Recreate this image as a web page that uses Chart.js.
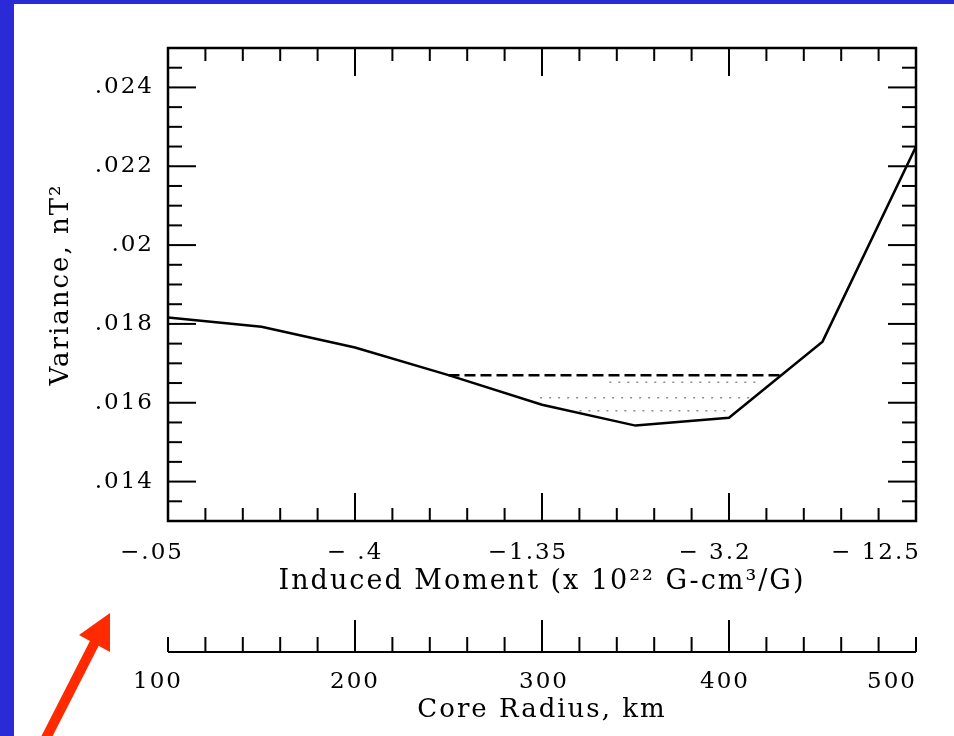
<!DOCTYPE html>
<html>
<head>
<meta charset="utf-8">
<script src="https://cdn.jsdelivr.net/npm/chart.js@4.4.1/dist/chart.umd.min.js"></script>
<style>
  html, body { margin: 0; padding: 0; background: #fff; }
  #wrap { position: relative; width: 954px; height: 736px; overflow: hidden; background: #fff; }
  #wrap canvas { position: absolute; left: 0; top: 0; }
  .blue { position: absolute; left: 0; top: 0; background: #2a2ad6; }
</style>
</head>
<body>
<div id="wrap">
  <canvas id="variance-chart" width="954" height="736"></canvas>
  <div class="blue" style="width:14px;height:736px"></div>
  <div class="blue" style="width:954px;height:4px"></div>
</div>
<script>
// Data (core radius in km -> variance in nT^2)
const radiusKm = [100, 150, 200, 250, 300, 350, 400, 450, 500];
const variance = [0.01816, 0.01793, 0.0174, 0.0167, 0.01595, 0.01542, 0.01562, 0.01755, 0.0225];

// Dashed level closing the minimum, and the faint hatching under it
const levelKm = [250, 429];
const levelVar = [0.0167, 0.0167];
const hatchKm = [[336, 415], [299, 411], [320, 400]];
const hatchVar = [0.01652, 0.01613, 0.0158];

// Tick labels
const tickKm = [100, 200, 300, 400, 500];
const momentLabels = ['\u2212.05', '\u2212 .4', '\u22121.35', '\u2212 3.2', '\u2212 12.5'];
const radiusLabels = ['100', '200', '300', '400', '500'];
const varianceTicks = [0.014, 0.016, 0.018, 0.02, 0.022, 0.024];
const varianceLabels = ['.014', '.016', '.018', '.02', '.022', '.024'];

// the typeset labels don't sit centred on their ticks (px nudges)
const momentNudge = [-16, 0, -14, -14, -40];
const radiusNudge = [-10, 0, 2, -4, -24];

const FONT = "'DejaVu Serif', 'Liberation Serif', serif";
const INK = '#000';

const toPoints = (xs, ys) => xs.map((v, i) => ({ x: v, y: ys[i] }));

const hatchSets = hatchKm.map((xs, i) => ({
  data: toPoints(xs, [hatchVar[i], hatchVar[i]]),
  borderColor: 'rgba(0,0,0,0.45)',
  borderWidth: 1.5,
  borderDash: [2, 7],
  pointRadius: 0,
}));

// no extra side padding for the first/last x labels
const noSidePad = (h) => (s) => {
  s.height = h;
  s.paddingLeft = 0;
  s.paddingRight = 0;
};

// inward ticks on the frame and the separate core-radius axis
const frameTicks = {
  id: 'frameTicks',
  beforeLayout(c) { c.ctx.letterSpacing = '2px'; },
  afterLayout(c) {
    [['x', momentNudge], ['x2', radiusNudge]].forEach(([id, nudge]) => {
      c.scales[id].getLabelItems().forEach((item, i) => {
        item.options.translation[0] += nudge[i] || 0;
      });
    });
  },
  beforeDraw(c) { c.ctx.letterSpacing = '2px'; },
  afterDraw(c) {
    const { ctx, chartArea: a, scales: { x, y } } = c;
    ctx.save();
    ctx.strokeStyle = INK;
    const seg = (x1, y1, x2, y2) => {
      ctx.beginPath(); ctx.moveTo(x1, y1); ctx.lineTo(x2, y2); ctx.stroke();
    };
    ctx.lineWidth = 2;
    for (let i = 1; i < 20; i++) {
      const v = 100 + i * 20;
      const px = x.getPixelForValue(v);
      const len = v % 100 === 0 ? 28 : 13;
      seg(px, a.top, px, a.top + len);
      seg(px, a.bottom, px, a.bottom - len);
    }
    for (let i = 1; i < 24; i++) {
      const v = 0.013 + i * 0.0005;
      const py = y.getPixelForValue(v);
      const len = (i - 2) % 4 === 0 ? 28 : 14;
      seg(a.left, py, a.left + len, py);
      seg(a.right, py, a.right - len, py);
    }
    ctx.lineWidth = 2.5;
    ctx.strokeRect(a.left, a.top, a.right - a.left, a.bottom - a.top);

    // core radius axis
    const base = 652;
    ctx.lineWidth = 2;
    seg(x.getPixelForValue(100), base, x.getPixelForValue(500), base);
    for (let i = 0; i <= 20; i++) {
      const v = 100 + i * 20;
      const px = x.getPixelForValue(v);
      const len = v % 100 === 0 && v !== 100 && v !== 500 ? 32 : 15;
      seg(px, base, px, base - len);
    }

    // red arrow
    ctx.strokeStyle = '#ff2a00';
    ctx.fillStyle = '#ff2a00';
    ctx.lineWidth = 10;
    seg(44, 742, 95, 642);
    ctx.beginPath();
    ctx.moveTo(110, 613); ctx.lineTo(79, 635); ctx.lineTo(110, 652); ctx.closePath();
    ctx.fill();
    ctx.restore();
  },
};

const ctx = document.getElementById('variance-chart');
// eslint-disable-next-line no-unused-vars
const chart = new Chart(ctx, {
  type: 'line',
  data: {
    datasets: [
      {
        data: toPoints(radiusKm, variance),
        borderColor: INK,
        borderWidth: 2.5,
        pointRadius: 0,
        tension: 0,
      },
      {
        data: toPoints(levelKm, levelVar),
        borderColor: INK,
        borderWidth: 2.5,
        borderDash: [11, 5],
        pointRadius: 0,
      },
      ...hatchSets,
    ],
  },
  options: {
    responsive: false,
    animation: false,
    layout: { padding: { top: 48, right: 38, left: 46, bottom: 10 } },
    plugins: { legend: { display: false }, tooltip: { enabled: false } },
    scales: {
      x: {
        type: 'linear',
        position: 'bottom',
        min: 100,
        max: 500,
        afterBuildTicks: (s) => { s.ticks = tickKm.map((v) => ({ value: v })); },
        afterFit: noSidePad(77),
        grid: { display: false, drawTicks: false },
        border: { display: false },
        ticks: {
          padding: 18,
          color: INK,
          font: { family: FONT, size: 23 },
          maxRotation: 0,
          callback: (v) => momentLabels[tickKm.indexOf(v)],
        },
        title: {
          display: true,
          text: 'Induced Moment (x 10\u00b2\u00b2 G-cm\u00b3/G)',
          color: INK,
          font: { family: FONT, size: 27 },
          padding: 0,
        },
      },
      x2: {
        type: 'linear',
        position: 'bottom',
        min: 100,
        max: 500,
        afterBuildTicks: (s) => { s.ticks = tickKm.map((v) => ({ value: v })); },
        afterFit: noSidePad(128),
        grid: { display: false, drawTicks: false },
        border: { display: false },
        ticks: {
          padding: 70,
          color: INK,
          font: { family: FONT, size: 23 },
          maxRotation: 0,
          callback: (v) => radiusLabels[tickKm.indexOf(v)],
        },
        title: {
          display: true,
          text: 'Core Radius, km',
          color: INK,
          font: { family: FONT, size: 26 },
          padding: 0,
        },
      },
      y: {
        min: 0.013,
        max: 0.025,
        afterBuildTicks: (s) => { s.ticks = varianceTicks.map((v) => ({ value: v })); },
        afterFit: (s) => { s.width = 122; },
        grid: { display: false, drawTicks: false },
        border: { display: false },
        ticks: {
          padding: 14,
          color: INK,
          font: { family: FONT, size: 23 },
          callback: (v) => varianceLabels[varianceTicks.indexOf(v)],
        },
        title: {
          display: true,
          text: 'Variance, nT\u00b2',
          color: INK,
          font: { family: FONT, size: 26 },
          padding: 0,
        },
      },
    },
  },
  plugins: [frameTicks],
});
</script>
</body>
</html>
